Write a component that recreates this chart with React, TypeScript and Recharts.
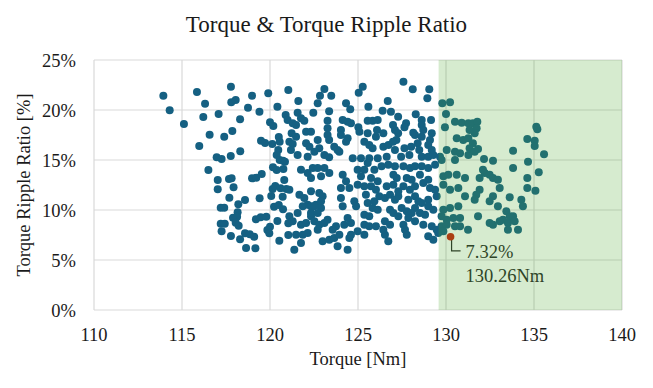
import { ScatterChart, Scatter, XAxis, YAxis, CartesianGrid, ReferenceArea } from 'recharts'

// torque [Nm] and torque ripple ratio [%]
const torque = [
  113.94, 114.3, 115.11, 115.85, 116.31, 116.21, 115.98, 116.57, 116.5, 117.08, 117.78, 117.8, 118.05, 117.4, 117.86, 118.3,
  118.31, 116.97, 117.25, 117.77, 117.03, 117.03, 117.67, 117.82, 117.93, 117.69, 117.2, 117.4, 118.2, 118.16, 118.13, 117.2,
  117.43, 117.25, 117.9, 118.05, 118.22, 117.78, 118.3, 118.58, 118.64, 119.17, 118.58, 118.75, 118.98, 119.4, 119.9, 120.42,
  121.04, 120.89, 121.0, 120.0, 120.19, 119.49, 119.72, 120.13, 120.5, 120.55, 120.47, 120.38, 120.55, 120.74, 120.85, 120.17,
  120.38, 120.76, 118.98, 119.22, 119.53, 119.41, 120.81, 120.15, 120.3, 120.6, 120.93, 120.07, 120.72, 120.23, 120.5, 120.74,
  119.2, 119.47, 119.79, 120.0, 119.85, 119.96, 120.42, 120.53, 121.04, 121.04, 118.85, 119.1,
  // 121 - 126
  121.61, 123.09, 122.84, 123.48, 122.71, 124.32, 125.27, 125.04, 125.59, 124.56, 123.36, 122.46, 121.57, 121.76, 121.95, 121.29,
  121.48, 123.27, 123.27, 124.13, 124.41, 124.6, 125.55, 125.83, 126.12, 125.02, 121.23, 121.48, 122.05, 122.33, 123.27, 123.36,
  124.03, 124.03, 124.41, 124.32, 125.08, 125.55, 126.08, 126.02, 121.1, 121.29, 122.05, 122.24, 122.71, 122.8, 123.65, 123.84,
  123.94, 124.7, 125.36, 125.64, 125.83, 125.17, 125.64, 126.12, 123.09, 123.36, 122.52,
  121.76, 122.14, 122.43, 122.71, 123.09, 122.33, 122.9, 123.37, 124.13, 124.32, 124.98, 125.36, 125.93, 124.03, 124.51, 124.98,
  125.36, 125.74, 126.02, 121.1, 121.67, 121.95, 122.33, 122.8, 122.99, 122.14, 122.33, 122.61, 122.9, 122.9, 124.03, 124.13,
  124.79, 124.89, 125.45, 125.55, 125.83, 126.12, 125.36, 125.64, 121.1, 121.29, 121.76, 122.05, 122.33, 122.52, 122.8, 123.09,
  122.33, 122.71, 123.75, 124.22, 124.6, 124.41, 121.48, 121.86, 122.14, 121.76, 121.38, 122.99, 123.37, 123.65, 123.94, 123.84,
  124.51, 124.6, 124.41, 125.36, 125.64, 126.02, 124.98, 125.36,
  125.17, 125.74, 126.12, 125.55, 125.93, 126.21, 122.52, 121.86, 121.57, 122.71, 123.27, 123.56, 121.19, 121.57, 122.14,
  // 126 - 131
  127.58, 128.11, 129.05, 128.94, 126.69, 129.79, 130.23, 126.4, 126.87, 128.28, 127.28, 130.0, 128.62, 128.62, 129.15, 127.73,
  127.64, 126.99, 127.1, 130.51, 130.89, 131.27, 129.94, 126.44, 127.28, 127.18, 128.14, 128.24, 128.71, 128.62, 129.19, 129.09,
  130.61, 130.98, 131.27, 126.44, 126.73, 127.64, 128.02, 128.39, 128.48, 128.99, 129.19, 126.99, 127.1, 130.04, 130.51, 130.8,
  126.63, 127.45, 127.92, 128.62, 128.99, 129.28, 129.66, 129.75, 131.27, 130.51,
  126.34, 126.72, 127.1, 127.58, 127.95, 128.24, 128.62, 128.99, 129.38, 127.01, 127.77, 128.52, 128.99, 126.63, 127.01, 127.58,
  127.95, 128.24, 129.09, 129.38, 129.85, 130.13, 129.85, 130.61, 131.08, 130.23, 130.7, 131.08, 126.53, 126.82, 127.1, 128.24,
  128.43, 128.99, 129.47, 126.82, 127.01, 127.48, 127.77, 128.24, 128.52, 128.81, 128.99, 129.28, 129.85, 130.23, 130.7, 129.75,
  130.04, 130.42, 130.8, 126.53, 126.82, 127.58, 127.67, 128.24, 128.71, 129.19, 129.47, 129.75, 130.04, 130.51, 130.8, 126.53,
  126.72, 127.77, 128.99, 129.28, 129.56, 129.85, 126.44,
  127.29, 127.86, 128.05, 127.29, 128.62, 127.86, 127.2, 128.05, 128.71, 127.29,
  // 131 - 136
  131.53, 131.78, 131.74, 131.63, 131.34, 131.53, 131.34, 131.82, 131.63, 132.16, 132.67, 133.81, 134.62, 135.13, 135.19, 135.04,
  135.04, 135.57, 134.66, 132.2, 132.48, 132.67, 131.91, 132.1, 132.95, 133.05, 133.81, 134.62, 135.27, 134.62, 135.08, 131.91,
  131.72, 131.63, 132.67, 132.48, 133.62, 134.28, 134.37, 132.95, 133.43, 133.62, 133.81, 133.24, 133.52, 133.05, 133.9, 131.82,
  132.48, 132.67, 133.52, 134.09, 131.25,
]
const ripple = [
  21.43, 19.97, 18.6, 21.8, 20.63, 19.3, 16.4, 17.53, 14.0, 19.6, 22.33, 20.77, 21.0, 17.33, 17.9, 19.07,
  15.87, 15.27, 15.1, 15.4, 13.0, 12.07, 13.1, 13.17, 12.27, 11.23, 10.23, 10.23, 10.57, 9.77, 9.33, 8.63,
  8.63, 7.87, 9.23, 8.73, 8.43, 7.4, 7.07, 7.67, 6.2, 6.17, 11.0, 20.23, 21.43, 19.83, 21.67, 20.33,
  22.0, 19.5, 19.0, 18.77, 18.4, 16.93, 16.7, 16.6, 17.3, 16.83, 16.0, 15.5, 15.0, 14.93, 14.83, 14.27,
  14.0, 14.1, 13.17, 13.23, 13.6, 11.17, 13.0, 12.1, 12.4, 12.17, 12.1, 11.4, 11.33, 10.33, 10.5, 10.07,
  9.07, 9.27, 9.33, 8.33, 8.0, 7.67, 8.9, 6.93, 8.67, 7.5, 7.57, 7.33,
  20.9, 22.1, 21.43, 21.43, 20.67, 20.67, 22.33, 21.73, 20.33, 20.07, 19.87, 19.73, 19.73, 19.17, 18.93, 18.67,
  18.5, 18.93, 18.17, 19.0, 18.83, 18.67, 18.93, 18.93, 19.0, 18.27, 17.67, 17.33, 17.83, 17.83, 17.5, 17.0,
  18.0, 17.5, 17.17, 16.83, 17.83, 17.67, 18.0, 17.33, 16.83, 16.6, 16.67, 16.33, 17.0, 16.17, 16.33, 16.0,
  15.83, 15.17, 16.83, 16.5, 16.17, 15.17, 15.17, 15.17, 15.5, 15.27, 15.83,
  14.03, 13.7, 14.2, 14.2, 14.2, 13.2, 13.37, 13.7, 13.53, 12.87, 14.03, 14.03, 14.03, 12.2, 12.2, 12.53,
  12.37, 12.37, 12.03, 12.03, 11.53, 11.2, 11.87, 11.7, 11.37, 10.53, 10.37, 10.53, 10.87, 10.2, 11.2, 10.37,
  10.87, 10.37, 11.53, 10.7, 10.2, 10.03, 9.53, 9.37, 9.37, 8.87, 8.53, 8.7, 9.37, 8.87, 8.53, 8.7,
  9.7, 9.7, 8.37, 8.53, 8.7, 9.2, 7.53, 7.53, 7.7, 6.7, 6.03, 6.87, 7.03, 7.2, 7.53, 6.37,
  7.2, 7.53, 6.03, 8.53, 8.37, 8.37, 7.87, 7.53,
  13.37, 13.2, 12.87, 14.7, 10.87, 11.37, 10.37, 10.37, 9.7, 8.03, 9.03, 8.03, 16.0, 15.5, 15.33,
  22.83, 22.07, 22.07, 21.17, 20.9, 20.67, 20.77, 19.93, 19.83, 19.57, 19.33, 19.6, 19.0, 18.5, 19.0, 18.67,
  18.27, 18.5, 18.0, 18.83, 18.73, 18.67, 18.27, 17.67, 17.67, 17.0, 17.73, 17.5, 18.0, 17.33, 17.67, 17.0,
  17.17, 17.0, 17.17, 16.33, 16.5, 16.17, 16.33, 16.67, 16.0, 16.5, 16.0, 16.83, 16.0, 16.0, 15.83, 15.67,
  15.33, 15.33, 15.5, 15.33, 15.33, 15.5, 15.33, 15.0, 15.5, 15.0,
  14.37, 14.53, 14.37, 14.37, 14.2, 14.37, 14.37, 14.2, 14.53, 13.53, 13.2, 13.53, 13.03, 12.37, 12.53, 12.37,
  12.03, 12.37, 12.2, 12.03, 13.37, 13.53, 12.53, 13.53, 13.2, 12.03, 12.2, 11.37, 11.2, 11.53, 11.03, 11.37,
  10.87, 11.03, 11.37, 10.03, 9.7, 10.2, 9.87, 10.2, 9.7, 9.53, 10.37, 10.03, 10.03, 10.2, 10.37, 9.37,
  9.03, 9.2, 9.2, 8.87, 8.53, 8.53, 8.03, 8.87, 8.53, 8.37, 8.03, 8.37, 8.53, 8.37, 8.37, 7.53,
  6.87, 7.53, 7.37, 7.03, 7.7, 7.87, 8.03,
  11.37, 11.03, 9.7, 9.37, 10.7, 9.2, 13.2, 13.03, 12.7, 11.87,
  18.67, 18.83, 18.17, 17.67, 18.0, 16.67, 16.17, 16.1, 15.83, 15.1, 14.93, 15.93, 17.1, 18.33, 18.07, 16.93,
  16.4, 15.57, 14.83, 13.7, 13.53, 13.2, 13.2, 14.03, 13.03, 12.2, 14.2, 13.2, 13.77, 12.2, 11.93, 12.03,
  11.53, 11.03, 11.37, 10.87, 11.27, 11.03, 10.37, 10.37, 9.87, 9.37, 9.37, 9.03, 8.7, 8.87, 8.87, 9.37,
  8.7, 8.53, 8.03, 8.03, 8.03,
]

// highlighted optimum
const bestTorque = [130.26]
const bestRipple = [7.32]

// shaded region on the torque axis
const highlightRange = [129.58, 140]

const xTicks = [110, 115, 120, 125, 130, 135, 140]
const yTicks = [0, 5, 10, 15, 20, 25]

const points = torque.map((t, i) => ({ torque: t, ripple: ripple[i] }))
const best = bestTorque.map((t, i) => ({ torque: t, ripple: bestRipple[i] }))

const font = "'Liberation Serif', 'Times New Roman', serif"
const textColor = '#1a1a1a'

const Dot = (p: any) => <circle cx={p.cx} cy={p.cy} r={4} fill="#156082" />

const BestDot = (p: any) => (
  <g>
    <polyline
      points={`${p.cx + 1},${p.cy + 2} ${p.cx + 1},${p.cy + 14} ${p.cx + 10},${p.cy + 14}`}
      fill="none"
      stroke="#262626"
      strokeWidth={1.2}
    />
    <circle cx={p.cx} cy={p.cy} r={3.8} fill="#C8200C" />
    <text x={p.cx + 15} y={p.cy + 21} fontSize={18.5} fill="#262626">
      {`${p.payload.ripple.toFixed(2)}%`}
    </text>
    <text x={p.cx + 15} y={p.cy + 45} fontSize={18.5} fill="#262626">
      {`${p.payload.torque.toFixed(2)}Nm`}
    </text>
  </g>
)

export default function App() {
  const tick = { fontSize: 18.5, fill: textColor }
  return (
    <div style={{ position: 'absolute', left: 0, top: 0, width: 653, height: 388, background: '#fff', fontFamily: font, color: textColor }}>
      <style>{`.chart-box svg text, .chart-box svg tspan { font-family: 'Liberation Serif', serif !important; }`}</style>
      <div style={{ position: 'absolute', left: 0, width: 653, top: 11, lineHeight: '28px', fontSize: 23, textAlign: 'center' }}>
        Torque &amp; Torque Ripple Ratio
      </div>
      <div className="chart-box" style={{ position: 'absolute', left: 0, top: 0 }}>
        <ScatterChart width={653} height={388} margin={{ top: 60, right: 31, bottom: 0, left: 0 }}>
          <CartesianGrid stroke="#d9d9d9" strokeWidth={1.2} />
          <XAxis
            type="number"
            dataKey="torque"
            domain={[110, 140]}
            ticks={xTicks}
            height={78}
            axisLine={false}
            tickLine={false}
            tickMargin={12}
            tick={tick}
          />
          <YAxis
            type="number"
            dataKey="ripple"
            domain={[0, 25]}
            ticks={yTicks}
            width={94}
            axisLine={false}
            tickLine={false}
            tickMargin={12}
            tick={tick}
            tickFormatter={(v) => `${v}%`}
          />
          <Scatter data={points} shape={Dot} isAnimationActive={false} />
          <Scatter data={best} shape={BestDot} isAnimationActive={false} />
          <ReferenceArea
            x1={highlightRange[0]}
            x2={highlightRange[1]}
            y1={0}
            y2={25}
            fill="#4EA72E"
            fillOpacity={0.23}
            stroke="none"
            zIndex={700}
          />
        </ScatterChart>
      </div>
      <div style={{ position: 'absolute', left: 0, width: 716, top: 349, lineHeight: '20px', fontSize: 18.5, textAlign: 'center' }}>
        Torque [Nm]
      </div>
      <div
        style={{
          position: 'absolute',
          left: 24 - 150,
          top: 185 - 10,
          width: 300,
          lineHeight: '20px',
          fontSize: 18.5,
          textAlign: 'center',
          transform: 'rotate(-90deg)',
        }}
      >
        Torque Ripple Ratio [%]
      </div>
    </div>
  )
}
